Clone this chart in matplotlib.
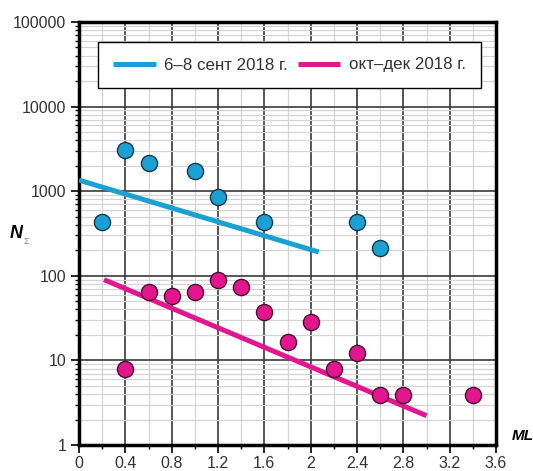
import matplotlib
matplotlib.use("Agg")
import matplotlib.pyplot as plt
import numpy as np
from matplotlib.ticker import LogLocator, FixedLocator, NullFormatter, MultipleLocator

plt.rcParams['font.family'] = ['Liberation Sans', 'DejaVu Sans']

# Data
sep_ml = [0.2, 0.4, 0.6, 1.0, 1.2, 1.6, 2.4, 2.6]
sep_n = [433, 3050, 2160, 1725, 857, 430, 430, 213]
sep_fit_ml = [0.0, 2.07]
sep_fit_n = [1350, 191]

oct_ml = [0.4, 0.6, 0.8, 1.0, 1.2, 1.4, 1.6, 1.8, 2.0, 2.2, 2.4, 2.6, 2.8, 3.4]
oct_n = [8.0, 65, 57, 65, 90, 73, 37, 16.3, 28.8, 8.0, 12.2, 3.9, 3.9, 3.9]
oct_fit_ml = [0.216, 3.0]
oct_fit_n = [90, 2.22]

labels = ["6–8 сент 2018 г.", "окт–дек 2018 г."]
xticks = [0, 0.4, 0.8, 1.2, 1.6, 2, 2.4, 2.8, 3.2, 3.6]
xtick_labels = ["0", "0.4", "0.8", "1.2", "1.6", "2", "2.4", "2.8", "3.2", "3.6"]
yticks = [1, 10, 100, 1000, 10000, 100000]
ytick_labels = ["1", "10", "100", "1000", "10000", "100000"]

blue = '#1aa0d2'
mag = '#e3168f'

fig = plt.figure(figsize=(5.33, 4.71), dpi=100)
ax = fig.add_axes([79/533, 1-445/471, (496-79)/533, (445-22)/471])
ax.set_yscale('log')
ax.set_xlim(0, 3.6)
ax.set_ylim(1, 100000)

# grid
ax.xaxis.set_major_locator(FixedLocator(xticks))
ax.xaxis.set_minor_locator(MultipleLocator(0.2))
ax.yaxis.set_major_locator(FixedLocator(yticks))
ax.yaxis.set_minor_locator(LogLocator(base=10, subs=np.arange(2, 10)))
ax.yaxis.set_minor_formatter(NullFormatter())
ax.set_xticklabels(xtick_labels)
ax.set_yticklabels(ytick_labels)
ax.grid(which='minor', color='#d4d4d4', lw=0.9, zorder=0)
ax.grid(which='major', color='#3a3a3a', lw=1.2, zorder=0.5)
ax.set_axisbelow(True)

ax.tick_params(which='major', direction='out', length=6, width=1.2, labelsize=11.5, colors='black', labelcolor='#333333')
ax.tick_params(which='minor', direction='out', length=3, width=1.0)
ax.tick_params(axis='x', pad=2)
ax.tick_params(axis='y', pad=3)
for s in ax.spines.values():
    s.set_linewidth(2.5)
    s.set_color('black')

l1, = ax.plot(sep_fit_ml, sep_fit_n, color=blue, lw=3.6, solid_capstyle='butt', zorder=3, label=labels[0])
l2, = ax.plot(oct_fit_ml, oct_fit_n, color=mag, lw=3.6, solid_capstyle='butt', zorder=3, label=labels[1])
ax.scatter(sep_ml, sep_n, s=135, color=blue, edgecolors='#16384a', linewidths=1.0, zorder=4, clip_on=False)
ax.scatter(oct_ml, oct_n, s=135, color=mag, edgecolors='#4a0d2c', linewidths=1.0, zorder=4, clip_on=False)

cx = ((98 + 481) / 2 - 79) / 417
cy = (445 - (42 + 88) / 2) / 423
leg = ax.legend(handles=[l1, l2], loc='center', ncol=2,
                bbox_to_anchor=(cx, cy),
                frameon=True, fancybox=False, edgecolor='black', framealpha=1,
                fontsize=12.2, handlelength=2.5, borderaxespad=0, borderpad=0.9,
                columnspacing=0.6, handletextpad=0.5)
leg.get_frame().set_linewidth(1.0)
leg.set_zorder(6)
for t in leg.get_texts():
    t.set_color('#333333')

fig.text(10/533, 1-234/471, 'N', fontsize=13, fontweight='bold', style='italic', ha='left', va='center')
fig.text(23/533, 1-241/471, 'Σ', fontsize=6.5, color='#888888', ha='left', va='center')
fig.text(512/533, 1-436/471, 'ML', fontsize=11, fontweight='bold', style='italic', ha='left', va='center')

fig.savefig('out.png', dpi=100)
